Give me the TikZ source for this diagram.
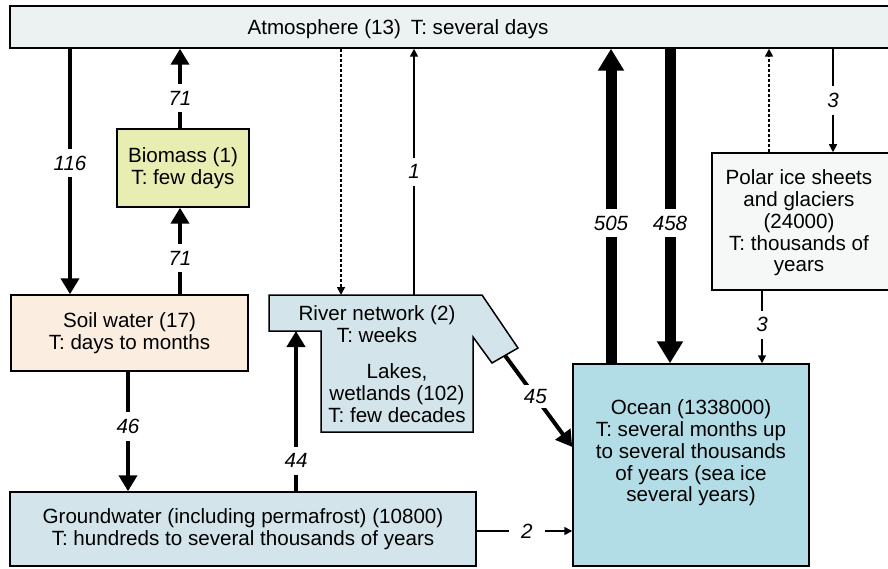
\documentclass[tikz,border=0pt]{standalone}
\usepackage{fontspec}
\setmainfont{Liberation Sans}
\usetikzlibrary{arrows.meta}
\definecolor{atmfill}{RGB}{236,242,242}
\definecolor{biofill}{RGB}{232,238,178}
\definecolor{soilfill}{RGB}{251,237,224}
\definecolor{gwfill}{RGB}{211,229,234}
\definecolor{oceanfill}{RGB}{179,221,230}
\definecolor{polarfill}{RGB}{246,248,248}
\newcommand\fsz{\fontsize{20.6}{21.8}\selectfont}
\begin{document}
\begin{tikzpicture}[x=1pt,y=-1pt,
  box/.style={draw=black, line width=1.5pt, inner sep=0pt, align=center, font=\fsz},
  txt/.style={inner sep=0pt, align=center, font=\fsz},
  num/.style={fill=white, inner xsep=4pt, inner ysep=7pt, font=\itshape\fsz},
  thinarr/.style={line width=1.6pt, -{Triangle[length=8pt,width=8pt]}},
  dotarr/.style={thinarr, dash pattern=on 3pt off 2pt},
  medarr/.style={line width=4pt, -{Triangle[length=16pt,width=18pt]}},
  fatarr/.style={line width=11pt, -{Triangle[length=22pt,width=25pt]}}]
\useasboundingbox (0,0) rectangle (888,569);
\clip (0,0) rectangle (888,569);

% columns / rows
\coordinate (c116) at (70,0);
\coordinate (c71) at (180,0);
\coordinate (c46) at (128,0);
\coordinate (c44) at (296,0);
\coordinate (cdash) at (341,0);
\coordinate (c1) at (414,0);
\coordinate (c505) at (611,0);
\coordinate (c458) at (670,0);
\coordinate (cpd) at (769,0);
\coordinate (cp3) at (833,0);
\coordinate (cp3b) at (762,0);
\coordinate (c2) at (0,531);
\coordinate (c45) at (0,447);

% boxes
\node[box, fill=atmfill, minimum width=884pt, minimum height=42pt] (atm) at (452,27) {};
\node[txt] (atmtext) at (398,29) {Atmosphere (13)\hspace{10pt}T: several days};

\node[box, fill=biofill, minimum width=132pt, minimum height=78pt] (bio) at (183,168) {Biomass (1)\\T: few days};
\node[box, fill=soilfill, minimum width=237pt, minimum height=76pt] (soil) at (129.5,333) {Soil water (17)\\T: days to months};
\node[box, fill=gwfill, minimum width=466pt, minimum height=74pt] (gw) at (243,529) {Groundwater (including permafrost) (10800)\\T: hundreds to several thousands of years};
\node[box, fill=oceanfill, minimum width=236pt, minimum height=202pt] (ocean) at (691,465) {};
\node[txt] (oceantext) at (691,453) {Ocean (1338000)\\T: several months up\\to several thousands\\of years (sea ice\\several years)};
\node[box, fill=polarfill, minimum width=180pt, minimum height=137pt] (polar) at (802,221.5) {};
\node[txt] (polartext) at (799,223) {Polar ice sheets\\and glaciers\\(24000)\\T: thousands of\\years};

% river network / lakes shape
\coordinate (r1) at (269,295);
\coordinate (r2) at (482,295);
\coordinate (r3) at (518,348);
\coordinate (r4) at (492,363);
\coordinate (r5) at (473,337);
\coordinate (r6) at (473,432);
\coordinate (r7) at (321,432);
\coordinate (r8) at (321,331);
\coordinate (r9) at (269,331);
\coordinate (spout) at (505,355.5);
\draw[fill=gwfill, line width=1.5pt, line join=miter] (r1) -- (r2) -- (r3) -- (r4) -- (r5) -- (r6) -- (r7) -- (r8) -- (r9) -- cycle;
\node[txt] (rivertext) at (377,324) {River network (2)\\T: weeks};
\node[txt] (lakestext) at (397,393) {Lakes,\\wetlands (102)\\T: few decades};

% connectors
\draw[medarr] (atm.south -| c116) -- node[num,pos=.466]{116} (soil.north -| c116);
\draw[medarr] (bio.north -| c71) -- node[num,pos=.38]{71} (atm.south -| c71);
\draw[medarr] (soil.north -| c71) -- node[num,pos=.42]{71} (bio.south -| c71);
\draw[medarr] (soil.south -| c46) -- node[num,pos=.46]{46} (gw.north -| c46);
\draw[medarr] (gw.north -| c44) -- node[num,pos=.19]{44} (r9 -| c44);
\draw[dotarr] (atm.south -| cdash) -- (r1 -| cdash);
\draw[thinarr] (r1 -| c1) -- node[num,pos=.5]{1} (atm.south -| c1);
\draw[medarr] (spout) -- node[num,pos=.45,inner ysep=4pt]{45} (ocean.west |- c45);
\draw[fatarr] (ocean.north -| c505) -- node[num,pos=.446]{505} (atm.south -| c505);
\draw[fatarr] (atm.south -| c458) -- node[num,pos=.554]{458} (ocean.north -| c458);
\draw[dotarr] (polar.north -| cpd) -- (atm.south -| cpd);
\draw[thinarr] (atm.south -| cp3) -- node[num,pos=.5]{3} (polar.north -| cp3);
\draw[thinarr] (polar.south -| cp3b) -- node[num,pos=.47]{3} (ocean.north -| cp3b);
\draw[thinarr] (gw.east |- c2) -- node[num,pos=.525,inner xsep=12pt,inner ysep=2pt]{2} (ocean.west |- c2);
\end{tikzpicture}
\end{document}
